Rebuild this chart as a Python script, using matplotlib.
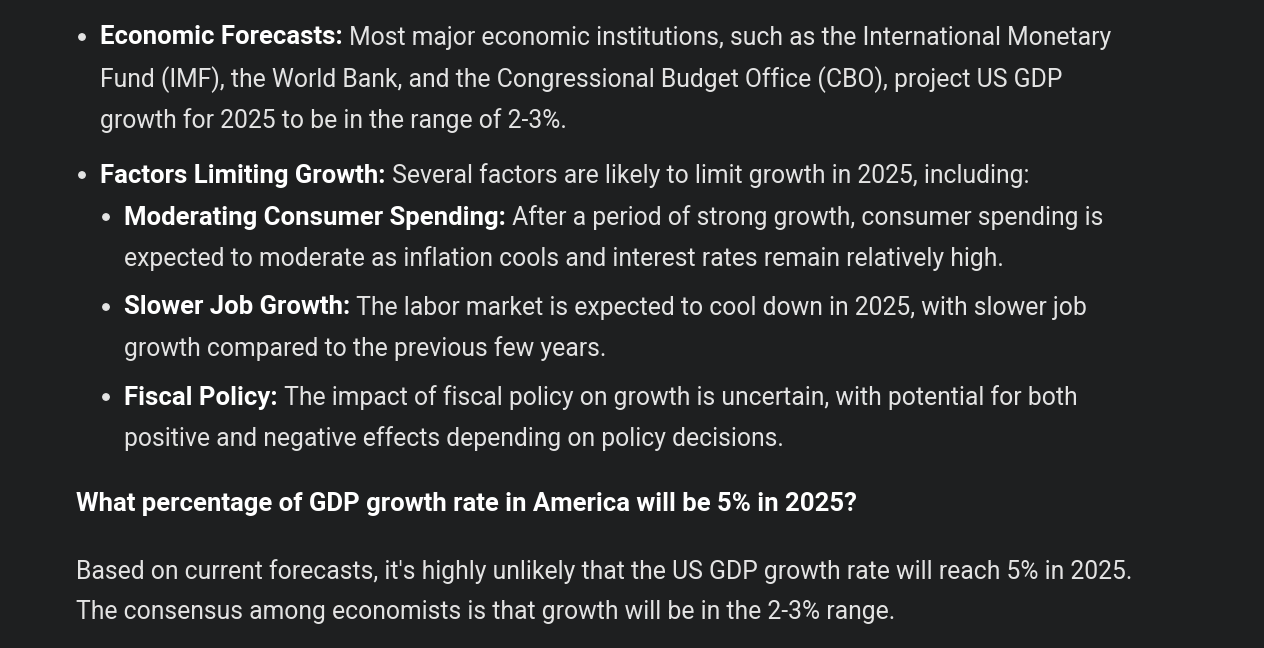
import matplotlib
matplotlib.use("Agg")
import matplotlib.pyplot as plt
from matplotlib.patches import Ellipse

W, H = 1264, 648
BG = "#1e1f20"
FG = "#e3e3e3"
FS = 17.8
FS_BOLD = 18.5
FONT = ["Roboto", "DejaVu Sans"]

# (indent level, bold lead, rest, continuation lines); level 0 bullet, 1 sub-bullet
bullets = [
    (0, "Economic Forecasts:",
     " Most major economic institutions, such as the International Monetary",
     ["Fund (IMF), the World Bank, and the Congressional Budget Office (CBO), project US GDP",
      "growth for 2025 to be in the range of 2-3%."]),
    (0, "Factors Limiting Growth:",
     " Several factors are likely to limit growth in 2025, including:", []),
    (1, "Moderating Consumer Spending:",
     " After a period of strong growth, consumer spending is",
     ["expected to moderate as inflation cools and interest rates remain relatively high."]),
    (1, "Slower Job Growth:",
     " The labor market is expected to cool down in 2025, with slower job",
     ["growth compared to the previous few years."]),
    (1, "Fiscal Policy:",
     " The impact of fiscal policy on growth is uncertain, with potential for both",
     ["positive and negative effects depending on policy decisions."]),
]
bullet_y = [35, 173, 215, 305, 395]
heading = "What percentage of GDP growth rate in America will be 5% in 2025?"
heading_y = 502
para = ["Based on current forecasts, it's highly unlikely that the US GDP growth rate will reach 5% in 2025.",
        "The consensus among economists is that growth will be in the 2-3% range."]
para_y = [569, 610]
LINE = 41.5
OFF = 0

fig = plt.figure(figsize=(W / 100, H / 100), dpi=100, facecolor=BG)
renderer = fig.canvas.get_renderer()


def put(x, y, s, bold=False):
    t = fig.text(x / W, 1 - y / H, s, color="#ffffff" if bold else FG,
                 fontsize=FS_BOLD if bold else FS, family=FONT,
                 fontweight="bold" if bold else "normal",
                 va="center_baseline", ha="left")
    return t


for (lvl, lead, rest, cont), y in zip(bullets, bullet_y):
    bx = 82 if lvl == 0 else 106
    tx = 100 if lvl == 0 else 124
    fig.patches.append(Ellipse((bx / W, 1 - (y + 2) / H), 6.4 / W, 6.4 / H,
                               transform=fig.transFigure, color=FG))
    t = put(tx, y + OFF, lead, bold=True)
    wpx = t.get_window_extent(renderer).width
    put(tx + wpx, y + OFF, rest)
    for i, line in enumerate(cont):
        put(tx, y + OFF + LINE * (i + 1), line)

put(76, heading_y + OFF, heading, bold=True)
for s, y in zip(para, para_y):
    put(76, y + OFF, s)

fig.savefig("out.png", dpi=100, facecolor=BG)
